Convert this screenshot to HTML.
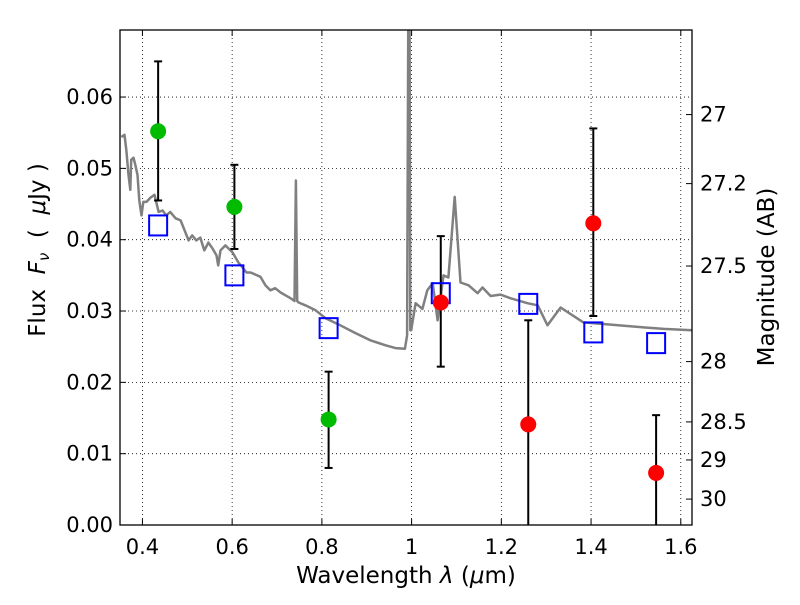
<!DOCTYPE html>
<html><head><meta charset="utf-8"><style>
body{margin:0;background:#fff}
svg text{font-family:"DejaVu Sans","Liberation Sans",sans-serif;fill:#000}
</style></head><body>
<svg id="chart" width="800" height="600" xmlns="http://www.w3.org/2000/svg">
<g id="grid"></g>
<g id="plot"></g>
<rect x="120" y="30" width="572" height="495" fill="none" stroke="#000" stroke-width="1.3"/>
<g id="axes"></g>
<text x="406" y="583" font-size="23" text-anchor="middle">Wavelength  <tspan font-style="italic">λ</tspan> (<tspan font-style="italic">μ</tspan>m)</text>
<text transform="translate(45,250) rotate(-90)" font-size="23" text-anchor="middle" xml:space="preserve">Flux  <tspan font-style="italic">F</tspan><tspan font-style="italic" font-size="15" dy="4">ν</tspan><tspan dy="-4">  (  </tspan><tspan font-style="italic">μ</tspan>Jy )</text>
<text transform="translate(774,277) rotate(-90)" font-size="23" text-anchor="middle">Magnitude (AB)</text>
</svg>
<script>
const xTicks=[0.4,0.6,0.8,1.0,1.2,1.4,1.6];
const xTickLabels=["0.4","0.6","0.8","1","1.2","1.4","1.6"];
const yTicks=[0,0.01,0.02,0.03,0.04,0.05,0.06];
const yTickLabels=["0.00","0.01","0.02","0.03","0.04","0.05","0.06"];
const magTicks=[27,27.2,27.5,28,28.5,29,30];
const magTickLabels=["27","27.2","27.5","28","28.5","29","30"];
const specWave=[0.353,0.360,0.364,0.369,0.373,0.375,0.380,0.384,0.389,0.393,0.398,0.402,0.409,0.418,0.427,0.436,0.445,0.453,0.462,0.474,0.485,0.494,0.503,0.511,0.520,0.529,0.538,0.547,0.556,0.565,0.569,0.574,0.585,0.601,0.614,0.623,0.632,0.641,0.652,0.663,0.674,0.685,0.696,0.708,0.719,0.730,0.739,0.742,0.745,0.748,0.763,0.786,0.808,0.841,0.875,0.908,0.942,0.964,0.985,0.990,0.993,0.995,0.997,0.999,1.001,1.009,1.024,1.035,1.047,1.058,1.071,1.082,1.096,1.109,1.127,1.147,1.158,1.176,1.198,1.220,1.258,1.281,1.303,1.332,1.383,1.444,1.517,1.562,1.627];
const specFlux=[0.0544,0.0547,0.0526,0.0491,0.0470,0.0512,0.0515,0.0505,0.0491,0.0455,0.0434,0.0453,0.0453,0.0459,0.0463,0.0439,0.0441,0.0434,0.0439,0.0430,0.0427,0.0413,0.0399,0.0406,0.0399,0.0403,0.0385,0.0396,0.0388,0.0378,0.0364,0.0385,0.0392,0.0382,0.0368,0.0361,0.0354,0.0354,0.0351,0.0348,0.0336,0.0329,0.0332,0.0326,0.0322,0.0318,0.0314,0.0483,0.0314,0.0312,0.0308,0.0301,0.0290,0.0280,0.0269,0.0259,0.0252,0.0248,0.0247,0.0266,0.08,0.08,0.0273,0.0273,0.0281,0.0311,0.0303,0.0329,0.0339,0.0287,0.0350,0.0347,0.0460,0.0340,0.0336,0.0325,0.0333,0.0321,0.0323,0.0318,0.0311,0.0308,0.0280,0.0305,0.0284,0.0281,0.0277,0.0275,0.0273];
const obsWave=[0.435,0.605,0.815,1.065,1.26,1.405,1.545];
const obsFlux=[0.0552,0.0446,0.0148,0.0312,0.0141,0.0423,0.0073];
const obsHigh=[0.0650,0.0505,0.0215,0.0405,0.0287,0.0556,0.0154];
const obsLow=[0.0455,0.0387,0.0080,0.0222,0.0,0.0293,0.0];
const obsColor=["#00bb00","#00bb00","#00bb00","#ff0000","#ff0000","#ff0000","#ff0000"];
const modelFlux=[0.0420,0.0350,0.0276,0.0325,0.0310,0.0270,0.0255];

const X0=120,X1=692,Y0=525,Y1=30,xmin=0.35,xmax=1.625,ymin=0,ymax=0.0694;
const sx=v=>X0+(v-xmin)/(xmax-xmin)*(X1-X0);
const sy=v=>Y0-(v-ymin)/(ymax-ymin)*(Y0-Y1);
const magToFlux=m=>Math.pow(10,(23.9-m)/2.5);
const NS="http://www.w3.org/2000/svg";
function mk(tag,parent,attrs){const e=document.createElementNS(NS,tag);for(const k in attrs)e.setAttribute(k,attrs[k]);parent.appendChild(e);return e;}
const grid=document.getElementById('grid'),plot=document.getElementById('plot'),axes=document.getElementById('axes');

xTicks.forEach((t,i)=>{const x=sx(t);
 let g=mk('line',grid,{x1:x,x2:x,y1:Y1,y2:Y0,stroke:'#000','stroke-width':0.8,'stroke-dasharray':'1,3'});
 
 let a=mk('line',axes,{x1:x,x2:x,y1:Y0,y2:Y0-6,stroke:'#000'});
 
 let b=mk('line',axes,{x1:x,x2:x,y1:Y1,y2:Y1+6,stroke:'#000'});
 
 let l=mk('text',axes,{x:x,y:554,'font-size':21,'text-anchor':'middle'});l.textContent=xTickLabels[i];
 
});
yTicks.forEach((t,i)=>{const y=sy(t);
 let g=mk('line',grid,{x1:X0,x2:X1,y1:y,y2:y,stroke:'#000','stroke-width':0.8,'stroke-dasharray':'1,3'});
 
 let a=mk('line',axes,{x1:X0,x2:X0+6,y1:y,y2:y,stroke:'#000'});
 
 let l=mk('text',axes,{x:113,y:y+7,'font-size':21,'text-anchor':'end'});l.textContent=yTickLabels[i];
 
});
magTicks.forEach((m,i)=>{const y=sy(magToFlux(m));
 let a=mk('line',axes,{x1:X1,x2:X1-6,y1:y,y2:y,stroke:'#000'});
 
 let l=mk('text',axes,{x:700,y:y+7,'font-size':21});l.textContent=magTickLabels[i];
 
});
mk('clipPath',plot,{id:'clip'}).appendChild(document.createElementNS(NS,'rect'));
const cr=document.querySelector('#clip rect');cr.setAttribute('x',X0);cr.setAttribute('y',Y1);cr.setAttribute('width',X1-X0);cr.setAttribute('height',Y0-Y1);
let d=specWave.map((w,i)=>(i?'L':'M')+sx(w).toFixed(1)+','+sy(specFlux[i]).toFixed(1)).join('');
let sp=mk('path',plot,{d:d,fill:'none',stroke:'#808080','stroke-width':2.5,'stroke-linejoin':'round','clip-path':'url(#clip)'});

obsWave.forEach((w,i)=>{const x=sx(w);
 let e=mk('line',plot,{x1:x,x2:x,y1:sy(obsHigh[i]),y2:sy(obsLow[i]),stroke:'#000','stroke-width':2});
 
 if(obsLow[i]>0){let c=mk('line',plot,{x1:x-4,x2:x+4,y1:sy(obsLow[i]),y2:sy(obsLow[i]),stroke:'#000','stroke-width':2});
  }
 let c2=mk('line',plot,{x1:x-4,x2:x+4,y1:sy(obsHigh[i]),y2:sy(obsHigh[i]),stroke:'#000','stroke-width':2});
 
});
obsWave.forEach((w,i)=>{
 let s=mk('rect',plot,{x:sx(w)-9,y:sy(modelFlux[i])-10,width:18,height:20,fill:'none',stroke:'#0000ff','stroke-width':2});
 
});
obsWave.forEach((w,i)=>{
 let c=mk('circle',plot,{cx:sx(w),cy:sy(obsFlux[i]),r:8,fill:obsColor[i]});
 
});
</script>
</body></html>
